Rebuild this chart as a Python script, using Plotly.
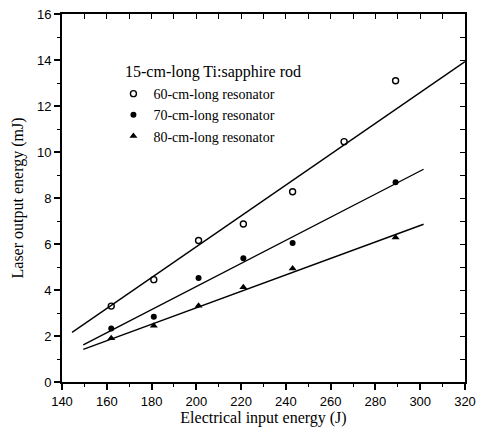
import plotly.graph_objects as go

x60 = [162, 181, 201, 221, 243, 266, 289]
y60 = [3.3, 4.45, 6.15, 6.87, 8.27, 10.45, 13.1]
x70 = [162, 181, 201, 221, 243, 289]
y70 = [2.33, 2.84, 4.52, 5.38, 6.04, 8.68]
x80 = [162, 181, 201, 221, 243, 289]
y80 = [1.9, 2.45, 3.32, 4.12, 4.93, 6.28]

# Fitted lines (end points)
fit60_x = [144.5, 320]
fit60_y = [2.16, 13.93]
fit70_x = [149.5, 301.5]
fit70_y = [1.61, 9.25]
fit80_x = [149.5, 301.5]
fit80_y = [1.42, 6.86]

legend_title = "15-cm-long Ti:sapphire rod"
names = ["60-cm-long resonator", "70-cm-long resonator", "80-cm-long resonator"]

serif = "Liberation Serif, Times New Roman, serif"
sans = "Liberation Sans, Arial, sans-serif"

fig = go.Figure()

for fx, fy in [(fit60_x, fit60_y), (fit70_x, fit70_y), (fit80_x, fit80_y)]:
    fig.add_trace(go.Scatter(x=fx, y=fy, mode="lines", showlegend=False,
                             line=dict(color="black", width=1.4), hoverinfo="skip"))

fig.add_trace(go.Scatter(x=x60, y=y60, mode="markers", name=names[0],
                         marker=dict(symbol="circle-open", size=6, color="black",
                                     line=dict(width=1.4, color="black"))))
fig.add_trace(go.Scatter(x=x70, y=y70, mode="markers", name=names[1],
                         marker=dict(symbol="circle", size=6, color="black")))
fig.add_trace(go.Scatter(x=x80, y=y80, mode="markers", name=names[2],
                         marker=dict(symbol="triangle-up", size=7, color="black")))

# empty trace to carry the mirrored (top/right) axes
fig.add_trace(go.Scatter(x=[], y=[], xaxis="x2", yaxis="y2", showlegend=False))

fig.add_annotation(
    text=legend_title, xref="paper", yref="paper", x=0.1524, y=0.8424,
    xanchor="left", yanchor="middle", showarrow=False,
    font=dict(family=serif, size=16, color="black"),
)

fig.update_layout(
    width=481, height=442,
    margin=dict(l=62, r=16, t=14, b=60),
    paper_bgcolor="white", plot_bgcolor="white",
    showlegend=True,
    legend=dict(
        x=0.1276, y=0.826, xanchor="left", yanchor="top",
        bgcolor="rgba(0,0,0,0)",
        font=dict(family=serif, size=14, color="black"),
        itemwidth=30, tracegroupgap=0,
    ),
    xaxis=dict(
        range=[140, 320], dtick=20, tick0=140, automargin=False,
        ticks="outside", ticklen=6, tickwidth=1.5, tickcolor="black",
        minor=dict(dtick=10, ticks="outside", ticklen=3, tickwidth=1.2, tickcolor="black"),
        showline=True, linecolor="black", linewidth=2,
        showgrid=False, zeroline=False,
        tickfont=dict(family=sans, size=13, color="black"),
        title=dict(text="Electrical input energy (J)", font=dict(family=serif, size=16, color="black"), standoff=4),
    ),
    yaxis=dict(
        range=[0, 16], dtick=2, tick0=0, automargin=False,
        ticks="outside", ticklen=6, tickwidth=1.5, tickcolor="black",
        minor=dict(dtick=1, ticks="outside", ticklen=3, tickwidth=1.2, tickcolor="black"),
        showline=True, linecolor="black", linewidth=2,
        showgrid=False, zeroline=False,
        tickfont=dict(family=sans, size=13, color="black"),
        title=dict(text="Laser output energy (mJ)", font=dict(family=serif, size=16, color="black"), standoff=9),
    ),
    xaxis2=dict(
        overlaying="x", side="top", range=[140, 320], dtick=10, tick0=140, automargin=False,
        ticks="inside", ticklen=5, tickwidth=1.3, tickcolor="black",
        showticklabels=False, showline=True, linecolor="black", linewidth=2,
        showgrid=False, zeroline=False,
    ),
    yaxis2=dict(
        overlaying="y", side="right", range=[0, 16], dtick=1, tick0=0, automargin=False,
        ticks="inside", ticklen=5, tickwidth=1.3, tickcolor="black",
        showticklabels=False, showline=True, linecolor="black", linewidth=2,
        showgrid=False, zeroline=False,
    ),
)

fig.write_html(
    "out.html",
    config={"displayModeBar": False},
    post_script="document.body.style.margin='0';document.body.style.padding='0';",
)
